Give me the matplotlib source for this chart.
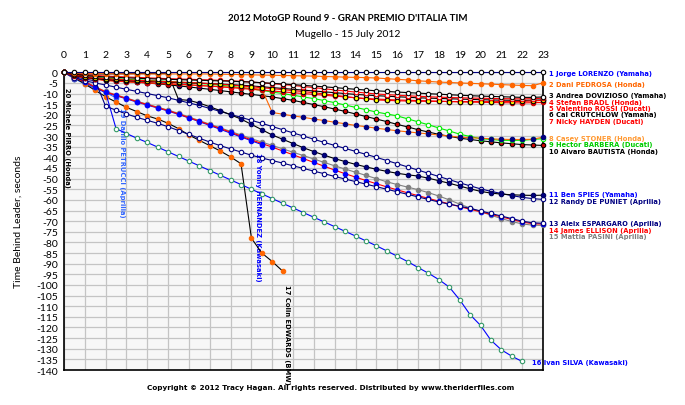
import matplotlib
matplotlib.use('Agg')
import matplotlib.pyplot as plt
import numpy as np

plt.rcParams['font.family'] = ['Lato', 'DejaVu Sans']

# half-lap positions, gap to leader in seconds
laps = np.arange(0, 23.01, 0.5)

lorenzo = [0.0] * 47
pedrosa = [0, 0.3, 0.5, 0.6, 0.7, 0.7, 0.8, 0.8, 0.8, 0.8, 0.8, 0.8, 0.8, 0.8, 0.8, 0.9, 1.0, 1.1, 1.2, 1.3,
           1.4, 1.5, 1.6, 1.7, 1.8, 2.0, 2.1, 2.3, 2.4, 2.5, 2.7, 3.0, 3.3, 3.6, 4.0, 4.3, 4.6, 4.8, 5.0, 5.2,
           5.4, 5.6, 5.8, 6.0, 6.2, 6.3, 5.0]
dovizioso = [0, 0.9, 1.5, 1.9, 2.2, 2.4, 2.6, 2.8, 3.0, 3.15, 3.3, 3.45, 3.6, 3.75, 3.9, 4.05, 4.2, 4.4, 4.6, 4.9,
             5.2, 5.5, 5.8, 6.15, 6.5, 6.85, 7.2, 7.6, 8.0, 8.35, 8.7, 9.0, 9.3, 9.55, 9.8, 10.05, 10.3, 10.55,
             10.8, 11.0, 11.2, 11.35, 11.5, 11.65, 11.8, 11.8, 11.6]
bradl = [0, 0.7, 1.2, 1.5, 1.8, 2.0, 2.2, 2.4, 2.6, 2.8, 3.0, 3.15, 3.3, 3.45, 3.6, 3.8, 4.0, 4.3, 4.6, 4.95,
         5.3, 5.75, 6.2, 6.7, 7.2, 7.75, 8.3, 8.8, 9.3, 9.75, 10.2, 10.5, 10.8, 11.05, 11.3, 11.5, 11.7, 11.85,
         12.0, 12.1, 12.2, 12.3, 12.4, 12.45, 12.5, 12.4, 12.2]
rossi = [0, 1.2, 2.0, 2.5, 3.0, 3.3, 3.6, 3.8, 4.0, 4.2, 4.4, 4.6, 4.8, 5.05, 5.3, 5.65, 6.0, 6.4, 6.8, 7.25,
         7.7, 8.15, 8.6, 9.1, 9.6, 10.2, 10.8, 11.4, 12.0, 12.5, 13.0, 13.2, 13.4, 13.5, 13.6, 13.65, 13.7,
         13.75, 13.8, 13.8, 13.8, 13.8, 13.8, 13.75, 13.7, 13.5, 13.2]
crutchlow = [0, 1.4, 2.3, 2.9, 3.4, 3.65, 3.9, 4.1, 4.3, 4.5, 4.7, 4.85, 5.0, 5.15, 5.3, 5.55, 5.8, 6.1, 6.4,
             6.8, 7.2, 7.6, 8.0, 8.4, 8.8, 9.2, 9.6, 10.0, 10.4, 10.7, 11.0, 11.25, 11.5, 11.75, 12.0, 12.15,
             12.3, 12.45, 12.6, 12.75, 12.9, 13.0, 13.1, 13.15, 13.2, 13.1, 13.0]
hayden = [0, 1.6, 2.6, 3.2, 3.8, 4.1, 4.4, 4.65, 4.9, 5.15, 5.4, 5.65, 5.9, 6.2, 6.5, 6.85, 7.2, 7.6, 8.0, 8.4,
          8.8, 9.2, 9.6, 10.0, 10.4, 10.8, 11.2, 11.6, 12.0, 12.3, 12.6, 12.8, 13.0, 13.15, 13.3, 13.45, 13.6,
          13.75, 13.9, 14.0, 14.1, 14.2, 14.3, 14.35, 14.4, 14.3, 14.2]
stoner = [0, 1.5, 2.5, 3.2, 3.8, 4.2, 4.5, 4.8, 5.0, 5.25, 5.5, 5.75, 6.0, 6.25, 6.5, 6.75, 7.0, 7.25, 7.5, 7.9,
          18.9, 19.7, 20.5, 21.2, 22.0, 22.7, 23.5, 24.2, 25.0, 25.6, 26.3, 26.9, 27.5, 28.0, 28.5, 29.0, 29.5,
          30.0, 30.5, 30.8, 31.0, 31.3, 31.5, 31.6, 31.6, 31.5, 30.5]
barbera = [0, 1.2, 2.0, 2.4, 2.8, 3.05, 3.3, 3.55, 3.8, 4.05, 4.3, 4.6, 4.9, 5.25, 5.6, 6.1, 6.6, 7.2, 7.8, 8.5,
           9.3, 10.0, 10.8, 11.6, 12.4, 13.3, 14.3, 15.4, 16.5, 17.6, 18.7, 19.6, 20.5, 21.9, 23.3, 24.7, 26.2,
           27.6, 29.1, 30.2, 31.2, 31.6, 32.0, 32.0, 32.0, 31.6, 31.2]
bautista = [0, 1.5, 2.5, 3.1, 3.6, 4.0, 4.3, 4.65, 5.0, 5.45, 5.9, 6.4, 6.9, 7.45, 8.0, 8.6, 9.2, 9.8, 10.4,
            11.0, 11.6, 12.4, 13.2, 14.2, 15.2, 16.2, 17.3, 18.4, 19.6, 20.8, 22.0, 23.2, 24.5, 25.7, 27.0,
            28.1, 29.2, 30.1, 31.0, 31.6, 32.2, 32.7, 33.2, 33.6, 34.0, 34.2, 34.4]
spies = [0, 0.6, 0.8, 0.8, 0.8, 0.7, 0.7, 0.6, 0.6, 0.6, 0.6, 12.8, 13.2, 14.5, 16.2, 18.0, 20.0, 22.0, 24.5,
         27.0, 29.5, 31.5, 33.5, 35.5, 37.3, 39.0, 40.6, 42.0, 43.3, 44.5, 45.6, 46.6, 47.5, 48.2, 48.8, 49.8,
         51.0, 52.2, 53.5, 54.8, 56.0, 56.8, 57.3, 57.6, 57.8, 57.9, 57.8]
depuniet = [0, 2.5, 4.0, 5.0, 6.0, 7.0, 8.0, 9.0, 10.0, 11.0, 12.0, 13.2, 14.4, 15.6, 17.0, 18.4, 19.8, 21.2,
            22.6, 24.0, 25.5, 27.0, 28.5, 30.0, 31.5, 33.0, 34.4, 35.8, 37.2, 38.6, 40.0, 41.5, 43.0, 44.5,
            46.0, 47.5, 49.0, 50.5, 52.0, 53.4, 54.8, 56.0, 57.0, 58.0, 58.8, 59.4, 59.8]
espargaro = [0, 2.0, 3.2, 4.0, 16.0, 17.8, 19.6, 21.2, 22.6, 24.0, 25.6, 27.4, 29.2, 31.0, 32.8, 34.5, 36.0,
             37.5, 39.0, 40.3, 41.5, 42.7, 44.0, 45.2, 46.5, 47.7, 49.0, 50.2, 51.4, 52.6, 53.8, 55.0, 56.2,
             57.4, 58.6, 59.8, 61.0, 62.0, 63.0, 64.0, 65.2, 66.4, 67.6, 68.8, 70.0, 70.8, 71.0]
ellison = [0, 2.5, 4.5, 7.0, 9.2, 10.8, 12.3, 13.8, 15.2, 16.6, 18.0, 19.6, 21.3, 23.0, 24.7, 26.4, 28.2, 30.0,
           31.8, 33.5, 35.2, 37.0, 38.8, 40.6, 42.4, 44.2, 46.0, 47.7, 49.3, 50.9, 52.4, 53.9, 55.3, 56.7, 58.0,
           59.3, 60.6, 61.9, 63.2, 64.4, 65.6, 66.8, 68.0, 69.2, 70.4, 71.2, 71.4]
pasini = [0, 2.5, 4.5, 6.8, 9.0, 10.6, 12.1, 13.6, 15.0, 16.4, 17.8, 19.3, 21.0, 22.7, 24.4, 26.1, 27.8, 29.5,
          31.2, 32.8, 34.4, 36.0, 37.6, 39.2, 40.8, 42.4, 44.0, 45.5, 47.0, 48.5, 50.0, 51.5, 52.8, 54.0, 55.2,
          56.6, 58.2, 60.0, 62.0, 63.8, 65.5, 67.2, 68.8, 70.2, 71.3, 71.9, 72.0]
silva = [0, 2.0, 4.5, 7.0, 9.5, 26.5, 28.8, 31.0, 33.0, 35.2, 37.4, 39.6, 41.8, 44.0, 46.2, 48.4, 50.6, 52.8,
         55.0, 57.2, 59.4, 61.6, 63.8, 66.0, 68.2, 70.4, 72.6, 74.8, 77.0, 79.3, 81.6, 84.0, 86.5, 89.0, 91.8,
         94.5, 97.5, 101.0, 107.0, 114.0, 119.0, 126.0, 130.5, 133.5, 136.0]
edwards = [0, 2.5, 5.5, 8.5, 11.5, 14.0, 16.5, 18.5, 20.5, 22.0, 24.0, 26.5, 29.5, 32.0, 34.5, 37.0, 39.8,
           43.0, 78.0, 85.0, 89.0, 93.5]
hernandez = [0, 2.6, 4.8, 7.2, 9.4, 11.0, 12.5, 14.0, 15.4, 16.8, 18.2, 19.8, 21.5, 23.2, 25.0, 26.8, 28.6,
             30.4, 32.2, 34.0]
petrucci = [0, 3.0, 5.5, 7.5, 9.5, 12.0]
pirro = [0, 3.0]

riders = ['1 Jorge LORENZO (Yamaha)', '2 Dani PEDROSA (Honda)', '3 Andrea DOVIZIOSO (Yamaha)',
          '4 Stefan BRADL (Honda)', '5 Valentino ROSSI (Ducati)', '6 Cal CRUTCHLOW (Yamaha)',
          '7 Nicky HAYDEN (Ducati)', '8 Casey STONER (Honda)', '9 Hector BARBERA (Ducati)',
          '10 Alvaro BAUTISTA (Honda)', '11 Ben SPIES (Yamaha)', '12 Randy DE PUNIET (Aprilia)',
          '13 Aleix ESPARGARO (Aprilia)', '14 James ELLISON (Aprilia)', '15 Mattia PASINI (Aprilia)',
          '16 Ivan SILVA (Kawasaki)', '17 Colin EDWARDS (BMW)', '18 Yonny HERNANDEZ (Kawasaki)',
          '19 Danilo PETRUCCI (Aprilia)', '20 Michele PIRRO (Honda)']
gaps = [lorenzo, pedrosa, dovizioso, bradl, rossi, crutchlow, hayden, stoner, barbera, bautista,
        spies, depuniet, espargaro, ellison, pasini, silva, edwards, hernandez, petrucci, pirro]

# line colour, marker face, marker edge, label colour
styles = [
    ('#000080', 'white', 'black', '#0000ff'),
    ('#ff6600', '#ff6600', '#ff6600', '#ff6600'),
    ('black', 'white', 'black', 'black'),
    ('red', 'white', 'red', 'red'),
    ('red', '#ffff00', 'black', 'red'),
    ('black', 'white', 'black', 'black'),
    ('red', 'red', '#cc0000', 'red'),
    ('#ff6600', '#000080', '#000080', '#ff9933'),
    ('#00ee00', 'white', '#00ee00', '#00cc00'),
    ('black', '#cc0000', 'black', 'black'),
    ('black', '#000080', '#000060', '#0000ff'),
    ('#000080', 'white', '#000080', '#000080'),
    ('#000080', 'white', '#000080', '#000080'),
    ('red', '#0000ff', '#0000ff', 'red'),
    ('#808080', '#808080', '#808080', '#808080'),
    ('#0000ff', 'white', '#339966', '#0000ff'),
    ('black', '#ff6600', '#ff6600', 'black'),
    ('#0000ff', '#0000ff', '#0000ff', '#0000ff'),
    ('#3366ff', '#3366ff', '#3366ff', '#3366ff'),
    ('black', 'black', 'black', 'black'),
]

# label anchors (lap, seconds) for finishers on the right, retirees vertical
right_y = [-0.3, -5.4, -10.9, -13.8, -16.9, -19.8, -22.9, -30.8, -33.9, -36.9,
           -57.3, -60.3, -71.0, -74.0, -77.0]
vert_pos = {15: (22.47, -136.3), 16: (10.7, -99.7), 17: (9.31, -37.5), 18: (2.77, -16.5), 19: (0.14, -6.9)}

fig = plt.figure(figsize=(6.85, 4.06), dpi=100)
ax = fig.add_axes([0.0934, 0.0862, 0.6993, 0.7333])
ax.set_facecolor('#f7f7f7')

for i in reversed(range(len(gaps))):
    vals = -np.array(gaps[i])
    lc, mf, me, _ = styles[i]
    ax.plot(laps[:len(vals)], vals, color=lc, lw=0.8, marker='o', ms=3.2, mfc=mf, mec=me, mew=0.8,
            clip_on=False, zorder=3 + (20 - i) * 0.01)

lab_font = dict(fontsize=4.9, fontweight='bold', family=['Liberation Sans Narrow', 'DejaVu Sans'])
for i, y in enumerate(right_y):
    ax.text(23.3, y, riders[i], color=styles[i][3], va='center', ha='left', **lab_font)
for i, (x, y) in vert_pos.items():
    if i == 15:
        ax.text(x, y, riders[i], color=styles[i][3], va='center', ha='left', **lab_font)
    else:
        ax.text(x, y, riders[i], color=styles[i][3], va='top', ha='center', rotation=270, **lab_font)

ax.set_xlim(0, 23)
ax.set_ylim(-140, 0)
ax.set_xticks(range(24))
ax.set_yticks(range(0, -141, -5))
ax.set_yticklabels([str(v) for v in range(0, -141, -5)])
ax.xaxis.tick_top()
ax.tick_params(axis='x', length=0, pad=9.5, labelsize=7.5)
ax.tick_params(axis='y', length=0, pad=4.5, labelsize=7.5)
ax.grid(True, color='#c4c4c4', lw=0.9)
ax.set_axisbelow(True)
for s in ['left', 'bottom', 'right']:
    ax.spines[s].set_color('black')
    ax.spines[s].set_linewidth(1.2)
ax.spines['top'].set_visible(False)

ax.set_ylabel('Time Behind Leader, seconds', fontsize=7.5)
ax.yaxis.set_label_coords(-0.086, 0.5)

fig.text(0.507, 0.955, "2012 MotoGP Round 9 - GRAN PREMIO D'ITALIA TIM", ha='center', va='center',
         fontsize=7.0, fontweight='bold')
fig.text(0.507, 0.914, 'Mugello - 15 July 2012', ha='center', va='center', fontsize=7.5)
fig.text(0.482, 0.044, 'Copyright \u00a9 2012 Tracy Hagan. All rights reserved. Distributed by www.theriderfiles.com',
         ha='center', va='center', fontsize=5.2, fontweight='bold', family='DejaVu Sans')

fig.savefig('out.png', dpi=100)
